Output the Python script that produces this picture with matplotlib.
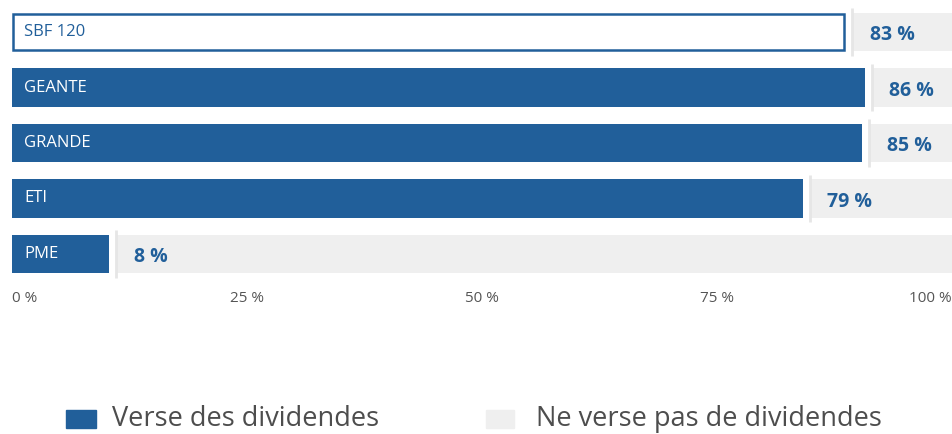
import matplotlib.pyplot as plt
from matplotlib.patches import Rectangle

# donnees
categories = ['SBF 120', 'GEANTE', 'GRANDE', 'ETI', 'PME']
value_labels = ['83 %', '86 %', '85 %', '79 %', '8 %']
# longueur visible des barres bleues (en % de l'axe)
blue_len = [88.6, 90.7, 90.4, 84.1, 10.3]
tick_vals = [0, 25, 50, 75, 100]
tick_labels = ['0 %', '25 %', '50 %', '75 %', '100 %']
legend_labels = ['Verse des dividendes', 'Ne verse pas de dividendes']

BLUE = '#215f9a'
GREY = '#efefef'
plt.rcParams['font.family'] = ['Open Sans', 'DejaVu Sans']

fig = plt.figure(figsize=(9.52, 4.34), dpi=100)
ax = fig.add_axes([12 / 952, 1 - 281.75 / 434, 940 / 952, 277.5 / 434])

gap = 0.85
for i, cat in enumerate(categories):
    if i == 0:
        # SBF 120 : barre blanche bordee de bleu
        ax.barh(i, blue_len[i] - 0.15, left=0.1, height=0.66, color='white',
                edgecolor=BLUE, linewidth=1.8)
        txtcol = BLUE
    else:
        ax.barh(i, blue_len[i], height=0.7, color=BLUE)
        txtcol = 'white'
    start = blue_len[i] + gap
    ax.barh(i, 100 - start, left=start, height=0.7, color=GREY)
    ax.vlines(start - 0.05, i - 0.43, i + 0.43, color='#e6e6e6', lw=2)
    ax.text(1.3, i, cat, color=txtcol, va='center', ha='left', fontsize=12)
    ax.text(start + 1.8, i + 0.06, value_labels[i], color=BLUE, va='center',
            ha='left', fontsize=14, fontweight='bold')

ax.set_xlim(0, 100)
ax.set_ylim(4.5, -0.5)
ax.set_yticks([])
ax.set_xticks(tick_vals)
ax.set_xticklabels(tick_labels, fontsize=11, color='#555555')
lbls = ax.get_xticklabels()
lbls[0].set_ha('left')
lbls[-1].set_ha('right')
ax.tick_params(axis='x', length=0, pad=7)
for s in ax.spines.values():
    s.set_visible(False)

# legende
fig.add_artist(Rectangle((66 / 952, 1 - 428 / 434), 30 / 952, 18 / 434,
                         transform=fig.transFigure, color=BLUE))
fig.text(112 / 952, 1 - 419 / 434, legend_labels[0], fontsize=19.5,
         color='#4d4d4d', va='center', ha='left')
fig.add_artist(Rectangle((486 / 952, 1 - 428 / 434), 28 / 952, 18 / 434,
                         transform=fig.transFigure, color=GREY))
fig.text(536 / 952, 1 - 419 / 434, legend_labels[1], fontsize=19.5,
         color='#4d4d4d', va='center', ha='left')

fig.savefig('out.png', dpi=100)
